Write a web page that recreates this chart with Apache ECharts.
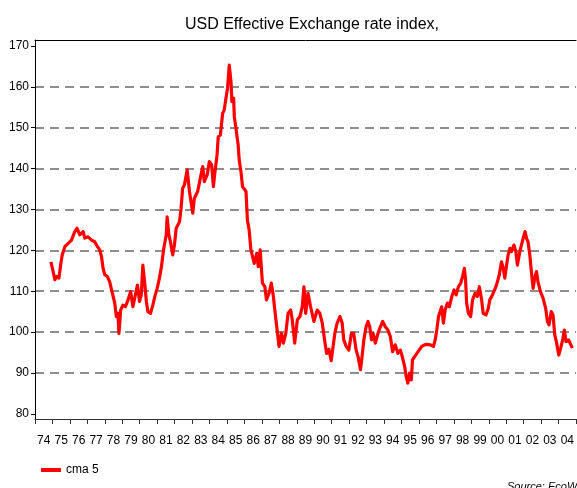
<!DOCTYPE html>
<html>
<head>
<meta charset="utf-8">
<script src="https://cdn.jsdelivr.net/npm/echarts@6/dist/echarts.min.js"></script>
<style>
html,body{margin:0;padding:0;background:#fff;}
#chart{width:577px;height:488px;}
</style>
</head>
<body>
<div id="chart"></div>
<script>
// Decimal years of each reading
var years = [
1974.91,1975.04,1975.14,1975.24,1975.37,1975.48,1975.56,1975.71,1975.90,1976.09,
1976.28,1976.41,1976.57,1976.76,1976.85,1977.04,1977.24,1977.42,1977.58,1977.71,
1977.81,1977.90,1978.00,1978.15,1978.28,1978.41,1978.57,1978.66,1978.75,1978.81,
1978.91,1979.04,1979.18,1979.33,1979.48,1979.61,1979.71,1979.87,1979.99,1980.09,
1980.18,1980.28,1980.38,1980.47,1980.62,1980.75,1980.89,1981.00,1981.13,1981.23,
1981.38,1981.52,1981.57,1981.67,1981.76,1981.89,1981.99,1982.09,1982.28,1982.37,
1982.46,1982.56,1982.72,1982.85,1983.04,1983.13,1983.32,1983.47,1983.61,1983.70,
1983.86,1983.99,1984.12,1984.22,1984.31,1984.43,1984.50,1984.62,1984.75,1984.84,
1984.94,1985.03,1985.13,1985.23,1985.28,1985.38,1985.42,1985.51,1985.57,1985.64,
1985.70,1985.81,1985.89,1986.09,1986.17,1986.27,1986.37,1986.56,1986.71,1986.79,
1986.90,1987.03,1987.17,1987.26,1987.41,1987.54,1987.66,1987.74,1987.85,1987.98,
1988.12,1988.23,1988.37,1988.50,1988.65,1988.74,1988.88,1989.03,1989.18,1989.31,
1989.41,1989.51,1989.64,1989.79,1989.98,1990.17,1990.32,1990.46,1990.59,1990.71,
1990.84,1990.97,1991.07,1991.18,1991.31,1991.47,1991.60,1991.69,1991.83,1991.98,
1992.13,1992.26,1992.40,1992.51,1992.65,1992.74,1992.84,1992.97,1993.08,1993.18,
1993.28,1993.37,1993.50,1993.65,1993.79,1993.92,1994.07,1994.22,1994.36,1994.49,
1994.64,1994.79,1994.93,1995.02,1995.18,1995.27,1995.36,1995.46,1995.56,1995.63,
1995.75,1995.88,1996.01,1996.16,1996.32,1996.45,1996.64,1996.83,1996.93,1997.02,
1997.12,1997.21,1997.30,1997.40,1997.50,1997.63,1997.74,1997.88,1998.01,1998.13,
1998.26,1998.39,1998.50,1998.60,1998.67,1998.73,1998.83,1998.96,1999.07,1999.21,
1999.34,1999.46,1999.59,1999.68,1999.84,1999.97,2000.06,2000.21,2000.35,2000.44,
2000.60,2000.73,2000.83,2000.92,2001.02,2001.11,2001.21,2001.30,2001.44,2001.55,
2001.64,2001.78,2001.87,2001.97,2002.08,2002.16,2002.25,2002.35,2002.44,2002.54,
2002.63,2002.73,2002.82,2002.96,2003.11,2003.26,2003.36,2003.45,2003.58,2003.68,
2003.78,2003.87,2004.01,2004.12,2004.25,2004.33,2004.42,2004.57,2004.70,2004.79
];
// Index values (cma 5)
var cma5 = [
117.2,114.8,112.8,113.6,113.2,116.8,118.9,120.9,121.7,122.5,
124.6,125.4,123.8,124.6,123.0,123.3,122.5,122.1,120.9,120.1,
118.5,115.6,114.0,113.6,112.3,109.9,107.1,103.8,104.6,99.7,
105.4,106.6,106.2,107.9,109.9,106.2,108.3,111.5,107.5,109.1,
116.4,112.3,107.5,105.0,104.6,106.6,109.1,110.7,113.2,115.6,
120.5,123.8,128.2,123.8,122.1,118.9,121.3,125.4,127.0,130.3,
135.2,136.0,139.7,134.4,129.1,132.7,134.4,137.6,140.5,136.8,
138.4,141.7,140.9,135.6,139.2,143.3,147.8,148.2,153.5,154.3,
157.2,159.6,165.3,161.2,156.4,157.2,152.7,150.0,148.0,145.8,
142.1,138.9,135.6,134.4,127.4,125.0,120.1,116.8,119.3,116.0,
120.1,112.0,111.1,107.9,109.5,112.0,108.7,105.4,101.3,96.5,
99.7,97.3,99.7,104.6,105.4,103.0,97.3,103.0,103.8,106.2,
111.1,104.6,109.5,106.2,102.6,105.4,104.6,102.2,98.1,94.8,
95.8,93.0,92.8,99.7,102.2,103.8,102.2,98.1,96.5,95.6,
99.7,99.7,95.6,94.0,90.8,94.0,98.1,101.3,102.6,101.3,
98.1,99.7,97.3,99.7,101.3,102.6,101.3,100.5,98.9,95.2,
96.9,94.8,95.6,94.4,91.6,89.1,87.5,90.0,88.3,93.2,
94.0,94.8,95.6,96.5,96.9,97.0,96.9,96.5,98.1,100.5,
103.8,105.0,106.2,102.2,105.4,107.1,106.2,108.7,110.3,109.1,
111.1,112.0,113.6,115.6,112.8,107.1,104.6,103.8,107.9,109.5,
108.7,111.1,107.9,104.6,104.2,105.8,107.9,109.1,110.5,111.5,
114.0,117.2,115.6,113.2,116.4,118.9,120.5,119.7,121.3,119.7,
116.4,119.7,121.3,123.0,124.6,123.0,122.1,118.9,114.8,110.7,
113.2,114.8,112.3,109.9,108.3,105.8,102.6,101.8,105.0,104.2,
99.3,97.7,94.4,96.1,98.5,100.5,97.7,98.1,96.9,96.1
];
var yTicks = [80,90,100,110,120,130,140,150,160,170];
var yGridLines = [90,100,110,120,130,140,150,160];
var yearTicks = [];
for (var y = 1974; y <= 2005; y++) yearTicks.push(y);
var xLabels = ['74','75','76','77','78','79','80','81','82','83','84','85','86','87','88','89',
               '90','91','92','93','94','95','96','97','98','99','00','01','02','03','04'];
var xLabelPos = xLabels.map(function (s, i) { return 1974.5 + i; });

var chart = echarts.init(document.getElementById('chart'), null, {renderer: 'canvas'});
var font = 'Liberation Sans, Arial, sans-serif';
chart.setOption({
  animation: false,
  backgroundColor: '#fff',
  title: [
    {text: 'USD Effective Exchange rate index,', left: 307, top: 12, textAlign: 'center',
     textStyle: {fontFamily: font, fontSize: 16, fontWeight: 'normal', color: '#000'}},
    {text: 'Source: EcoWin', left: 502, top: 476,
     textStyle: {fontFamily: font, fontSize: 11, fontWeight: 'normal', fontStyle: 'italic', color: '#000'}}
  ],
  legend: {
    left: 36, top: 459, itemWidth: 20, itemHeight: 4, itemGap: 10,
    icon: 'rect',
    textStyle: {fontFamily: font, fontSize: 12, color: '#000', padding: [0, 0, 0, 0]},
    data: ['cma 5']
  },
  grid: {left: 35, top: 40, right: -1, bottom: 69, show: false},
  xAxis: [
    {
      type: 'value', min: 1974, max: 2005,
      axisLine: {show: true, lineStyle: {color: '#333', width: 1}},
      axisTick: {show: true, length: 5, inside: false, customValues: yearTicks, lineStyle: {color: '#333'}},
      axisLabel: {customValues: xLabelPos, margin: 16, fontFamily: font, fontSize: 12, color: '#000',
        formatter: function (v) { return xLabels[Math.round(v - 1974.5)]; }},
      splitLine: {show: false}
    },
    {
      type: 'value', min: 1974, max: 2005, position: 'top',
      axisLine: {show: true, lineStyle: {color: '#000', width: 1}},
      axisTick: {show: false}, axisLabel: {show: false}, splitLine: {show: false}
    }
  ],
  yAxis: [
    {
      type: 'value', min: 78.75, max: 171.45,
      axisLine: {show: true, lineStyle: {color: '#000', width: 1}},
      axisTick: {show: true, length: 4, inside: false, customValues: yTicks, lineStyle: {color: '#000'}},
      axisLabel: {customValues: yTicks, margin: 6, fontFamily: font, fontSize: 12, color: '#000'},
      splitLine: {show: false}
    },
    {
      type: 'value', min: 78.75, max: 171.45, position: 'left',
      axisLine: {show: false}, axisLabel: {show: false},
      axisTick: {show: false, customValues: yGridLines},
      splitLine: {show: true, lineStyle: {color: '#6a6a6a', width: 1.6, type: [9, 6]}}
    }
  ],
  series: [{
    name: 'cma 5', type: 'line', showSymbol: false, symbol: 'none',
    xAxisIndex: 0, yAxisIndex: 0,
    data: years.map(function (t, i) { return [t, cma5[i]]; }),
    lineStyle: {color: '#ff0000', width: 3.2, join: 'round'},
    itemStyle: {color: '#ff0000'}
  }]
});
</script>
</body>
</html>
